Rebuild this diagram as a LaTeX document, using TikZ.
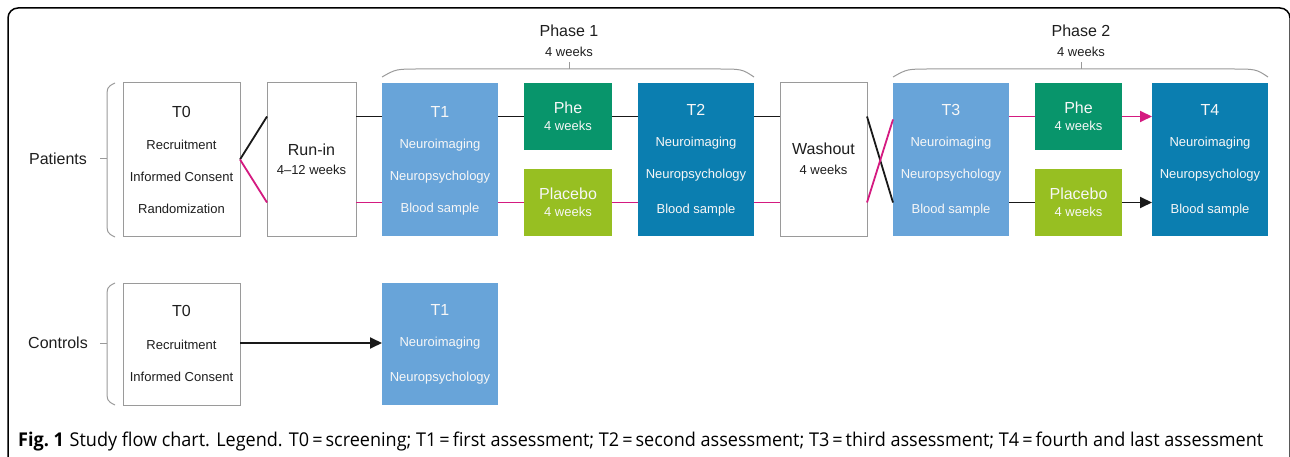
\documentclass[tikz,border=0pt]{standalone}
\usepackage{fontspec}
\setmainfont{Liberation Sans}
\newfontfamily\capfont{Open Sans}
\usetikzlibrary{arrows.meta,calc}
\definecolor{lblue}{HTML}{68A4D9}
\definecolor{dblue}{HTML}{0B7EB0}
\definecolor{pgreen}{HTML}{08956B}
\definecolor{plgreen}{HTML}{97BF22}
\definecolor{mag}{HTML}{D41A80}
\definecolor{brc}{HTML}{9A9A9A}
\definecolor{txt}{HTML}{1E1E1E}
\tikzset{
  boxbase/.style={anchor=north west, inner sep=0pt, outer sep=0pt},
  wbox/.style={boxbase, draw=brc, line width=1pt, fill=white},
  cbox/.style={boxbase, draw=none},
  big/.style={font=\fontsize{16}{18}\selectfont, inner sep=0pt},
  sml/.style={font=\fontsize{13}{15}\selectfont, inner sep=0pt},
  dk/.style={text=txt},
  wt/.style={text=white!94!gray},
  blk/.style={draw=black!90, line width=1.8pt},
  mgl/.style={draw=mag, line width=1.8pt},
  brace/.style={draw=brc, line width=1pt},
  tip/.style={-{Triangle[length=12pt,width=11pt]}}
}
\begin{document}
\begin{tikzpicture}[x=1pt,y=-1pt]
\useasboundingbox (0,0) rectangle (1290,457);
% outer frame
\draw[line width=1.5pt, rounded corners=10pt] (8,458) -- (8,8) -- (1290,8) -- (1290,458);

% ---------- Patients row ----------
\node[big, dk] (pat) at (58,159) {Patients};
\coordinate (pbr) at (107,159);
\draw[brace] (100,159) -- (pbr);
\draw[brace] (115,83) .. controls (107,87) .. (107,100) -- (107,220) .. controls (107,233) .. (115,237);

\node[wbox, minimum width=117pt, minimum height=153pt] (t0) at (123,83) {};
\node[big, dk] (t0a) at (181.5,112) {T0};
\node[sml, dk] (t0b) at (181.5,145) {Recruitment};
\node[sml, dk] (t0c) at (181.5,177) {Informed Consent};
\node[sml, dk] (t0d) at (181.5,209) {Randomization};

\node[wbox, minimum width=89pt, minimum height=153pt] (run) at (267,83) {};
\node[big, dk] (runa) at (311.5,150) {Run-in};
\node[sml, dk] (runb) at (311.5,170) {4--12 weeks};

\node[cbox, fill=lblue, minimum width=116pt, minimum height=153pt] (t1) at (382,83) {};
\node[big, wt] (t1a) at (440,112) {T1};
\node[sml, wt] (t1b) at (440,145) {Neuroimaging};
\node[sml, wt] (t1c) at (440,177) {Neuropsychology};
\node[sml, wt] (t1d) at (440,209) {Blood sample};

\node[cbox, fill=pgreen, minimum width=88pt, minimum height=67pt] (phe) at (524,83) {};
\node[big, wt] (phea) at (568,108) {Phe};
\node[sml, wt] (pheb) at (568,126) {4 weeks};
\node[cbox, fill=plgreen, minimum width=88pt, minimum height=67pt] (pla) at (524,169) {};
\node[big, wt] (plaa) at (568,194) {Placebo};
\node[sml, wt] (plab) at (568,212) {4 weeks};

\node[cbox, fill=dblue, minimum width=116pt, minimum height=153pt] (t2) at (638,83) {};
\node[big, wt] (t2a) at (696,110) {T2};
\node[sml, wt] (t2b) at (696,143) {Neuroimaging};
\node[sml, wt] (t2c) at (696,175) {Neuropsychology};
\node[sml, wt] (t2d) at (696,210) {Blood sample};

\node[wbox, minimum width=87pt, minimum height=153pt] (wash) at (780,83) {};
\node[big, dk] (washa) at (823.5,149) {Washout};
\node[sml, dk] (washb) at (823.5,170) {4 weeks};

\node[cbox, fill=lblue, minimum width=116pt, minimum height=153pt] (t3) at (893,83) {};
\node[big, wt] (t3a) at (951,110) {T3};
\node[sml, wt] (t3b) at (951,143) {Neuroimaging};
\node[sml, wt] (t3c) at (951,175) {Neuropsychology};
\node[sml, wt] (t3d) at (951,210) {Blood sample};

\node[cbox, fill=pgreen, minimum width=87pt, minimum height=67pt] (phe2) at (1035,83) {};
\node[big, wt] (phe2a) at (1078.5,108) {Phe};
\node[sml, wt] (phe2b) at (1078.5,126) {4 weeks};
\node[cbox, fill=plgreen, minimum width=87pt, minimum height=67pt] (pla2) at (1035,169) {};
\node[big, wt] (pla2a) at (1078.5,194) {Placebo};
\node[sml, wt] (pla2b) at (1078.5,212) {4 weeks};

\node[cbox, fill=dblue, minimum width=116pt, minimum height=153pt] (t4) at (1152,83) {};
\node[big, wt] (t4a) at (1210,110) {T4};
\node[sml, wt] (t4b) at (1210,143) {Neuroimaging};
\node[sml, wt] (t4c) at (1210,175) {Neuropsychology};
\node[sml, wt] (t4d) at (1210,210) {Blood sample};

% connectors
\draw[blk] (t0.east) -- (run.west |- phe.center);
\draw[mgl] (t0.east) -- (run.west |- pla.center);
\draw[blk] (run.east |- phe.center) -- (t1.west |- phe.center);
\draw[mgl] (run.east |- pla.center) -- (t1.west |- pla.center);
\draw[blk] (t1.east |- phe.center) -- (phe.west);
\draw[blk] (phe.east) -- (t2.west |- phe.center);
\draw[mgl] (t1.east |- pla.center) -- (pla.west);
\draw[mgl] (pla.east) -- (t2.west |- pla.center);
\draw[blk] (t2.east |- phe.center) -- (wash.west |- phe.center);
\draw[mgl] (t2.east |- pla.center) -- (wash.west |- pla.center);
\draw[blk] (wash.east |- phe.center) -- (t3.west |- pla.center);
\draw[mgl] (wash.east |- pla.center) -- ($(t3.west |- phe.center)+(0,3)$);
\draw[mgl] (t3.east |- phe2.center) -- (phe2.west);
\draw[mgl, tip] (phe2.east) -- (t4.west |- phe2.center);
\draw[blk] (t3.east |- pla2.center) -- (pla2.west);
\draw[blk, tip] (pla2.east) -- (t4.west |- pla2.center);

% phase braces
\node[big, text=txt] (ph1) at (569,31) {Phase 1};
\node[sml, text=txt] (ph1w) at (569,52) {4 weeks};
\draw[brace] (t1.north west |- 0,77) .. controls (396,69) .. (420,69) -- (716,69) .. controls (742,69) .. (t2.north east |- 0,77);
\draw[brace] (569,69) -- (569,62);
\node[big, text=txt] (ph2) at (1081,31) {Phase 2};
\node[sml, text=txt] (ph2w) at (1081,52) {4 weeks};
\draw[brace] (t3.north west |- 0,77) .. controls (907,69) .. (931,69) -- (1230,69) .. controls (1256,69) .. (t4.north east |- 0,77);
\draw[brace] (1081,69) -- (1081,62);

% ---------- Controls row ----------
\node[big, dk] (con) at (58,343) {Controls};
\draw[brace] (100,343) -- (107,343);
\draw[brace] (115,283) .. controls (107,287) .. (107,300) -- (107,388) .. controls (107,401) .. (115,405);

\node[wbox, minimum width=117pt, minimum height=122pt] (c0) at (123,283) {};
\node[big, dk] (c0a) at (181.5,311) {T0};
\node[sml, dk] (c0b) at (181.5,345) {Recruitment};
\node[sml, dk] (c0c) at (181.5,377) {Informed Consent};

\node[cbox, fill=lblue, minimum width=116pt, minimum height=122pt] (c1) at (382,283) {};
\node[big, wt] (c1a) at (440,310) {T1};
\node[sml, wt] (c1b) at (440,343) {Neuroimaging};
\node[sml, wt] (c1c) at (440,378) {Neuropsychology};

\draw[blk, tip] (c0.east |- 0,343) -- (c1.west |- 0,343);

% caption
\node[anchor=base west, inner sep=0pt] (cap) at (18,446) {\resizebox{1245pt}{\height}{\capfont\fontsize{19}{21}\selectfont\textbf{Fig.\ 1}\hspace{6pt}Study flow chart. Legend. T0\,=\,screening; T1\,=\,first assessment; T2\,=\,second assessment; T3\,=\,third assessment; T4\,=\,fourth and last assessment}};
\end{tikzpicture}
\end{document}
